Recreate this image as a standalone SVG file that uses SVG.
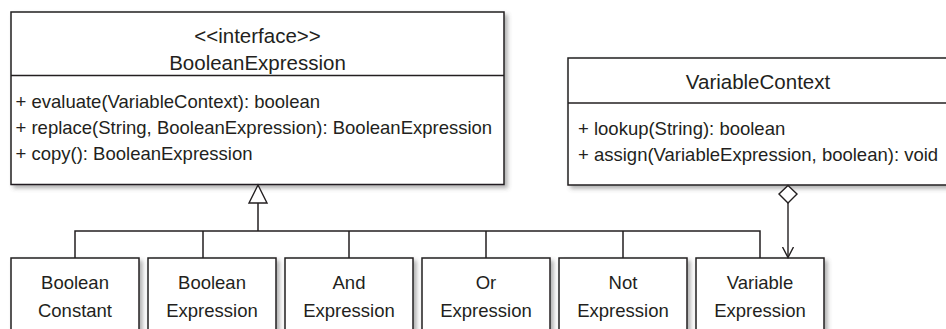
<svg xmlns="http://www.w3.org/2000/svg" width="946" height="329" viewBox="0 0 946 329">
  <defs>
    <filter id="shadow" x="-10%" y="-10%" width="130%" height="140%">
      <feDropShadow dx="3" dy="3" stdDeviation="2.2" flood-color="#555" flood-opacity="0.45"/>
    </filter>
    <marker id="open-arrow" markerWidth="14" markerHeight="14" refX="11" refY="6" orient="auto" markerUnits="userSpaceOnUse">
      <path d="M0.5,0.5 L11,6 L0.5,11.5" fill="none" stroke="#231f20" stroke-width="1.4"/>
    </marker>
  </defs>
  <style>
    .box { fill: #fff; stroke: #231f20; stroke-width: 1.5; filter: url(#shadow); }
    .sep { stroke: #231f20; stroke-width: 1.5; }
    .line { fill: none; stroke: #231f20; stroke-width: 1.5; }
    text { font-family: "Liberation Sans", Arial, Helvetica, sans-serif; fill: #231f20; }
    .title { font-size: 20.5px; text-anchor: middle; }
    .member { font-size: 18.5px; }
    .name { font-size: 18.5px; text-anchor: middle; }
  </style>

  <rect width="946" height="329" fill="#fff"/>

  <!-- interface BooleanExpression -->
  <g id="boolean-expression">
    <rect class="box" x="11" y="12" width="493" height="172.5"/>
    <line class="sep" x1="11" y1="75.5" x2="504" y2="75.5"/>
    <text class="title" x="257.5" y="42.5">&lt;&lt;interface&gt;&gt;</text>
    <text class="title" x="257.5" y="70">BooleanExpression</text>
    <text class="member" x="15.5" y="107.5">+ evaluate(VariableContext): boolean</text>
    <text class="member" x="15.5" y="133.8">+ replace(String, BooleanExpression): BooleanExpression</text>
    <text class="member" x="15.5" y="160">+ copy(): BooleanExpression</text>
  </g>

  <!-- class VariableContext -->
  <g id="variable-context">
    <rect class="box" x="568" y="58" width="382" height="127"/>
    <line class="sep" x1="568" y1="103" x2="950" y2="103"/>
    <text class="title" x="758" y="89">VariableContext</text>
    <text class="member" x="578" y="134.5">+ lookup(String): boolean</text>
    <text class="member" x="578" y="160.5">+ assign(VariableExpression, boolean): void</text>
  </g>

  <!-- implementing classes -->
  <g id="boolean-constant">
    <rect class="box" x="11" y="258" width="128" height="90"/>
    <text class="name" x="75" y="289.3">Boolean</text>
    <text class="name" x="75" y="317">Constant</text>
  </g>
  <g id="boolean-expression-impl">
    <rect class="box" x="148" y="258" width="128" height="90"/>
    <text class="name" x="212" y="289.3">Boolean</text>
    <text class="name" x="212" y="317">Expression</text>
  </g>
  <g id="and-expression">
    <rect class="box" x="285" y="258" width="128" height="90"/>
    <text class="name" x="349" y="289.3">And</text>
    <text class="name" x="349" y="317">Expression</text>
  </g>
  <g id="or-expression">
    <rect class="box" x="422" y="258" width="128" height="90"/>
    <text class="name" x="486" y="289.3">Or</text>
    <text class="name" x="486" y="317">Expression</text>
  </g>
  <g id="not-expression">
    <rect class="box" x="559" y="258" width="128" height="90"/>
    <text class="name" x="623" y="289.3">Not</text>
    <text class="name" x="623" y="317">Expression</text>
  </g>
  <g id="variable-expression">
    <rect class="box" x="696" y="258" width="128" height="90"/>
    <text class="name" x="760" y="289.3">Variable</text>
    <text class="name" x="760" y="317">Expression</text>
  </g>

  <!-- connectors -->
  <g id="connectors">
    <!-- realization tree -->
    <path class="line" d="M75,258 V231 H760 V258"/>
    <path class="line" d="M203,231 V258 M349,231 V258 M486,231 V258 M623,231 V258"/>
    <path class="line" d="M258,231 V203"/>
    <polygon points="258,185 267,203 249,203" fill="#fff" stroke="#231f20" stroke-width="1.4"/>
    <!-- aggregation to VariableExpression -->
    <polygon points="788,185.5 797,194 788,203 779,194" fill="#fff" stroke="#231f20" stroke-width="1.4"/>
    <line x1="788" y1="203" x2="788" y2="257.5" stroke="#231f20" stroke-width="1.4" marker-end="url(#open-arrow)"/>
  </g>
</svg>
